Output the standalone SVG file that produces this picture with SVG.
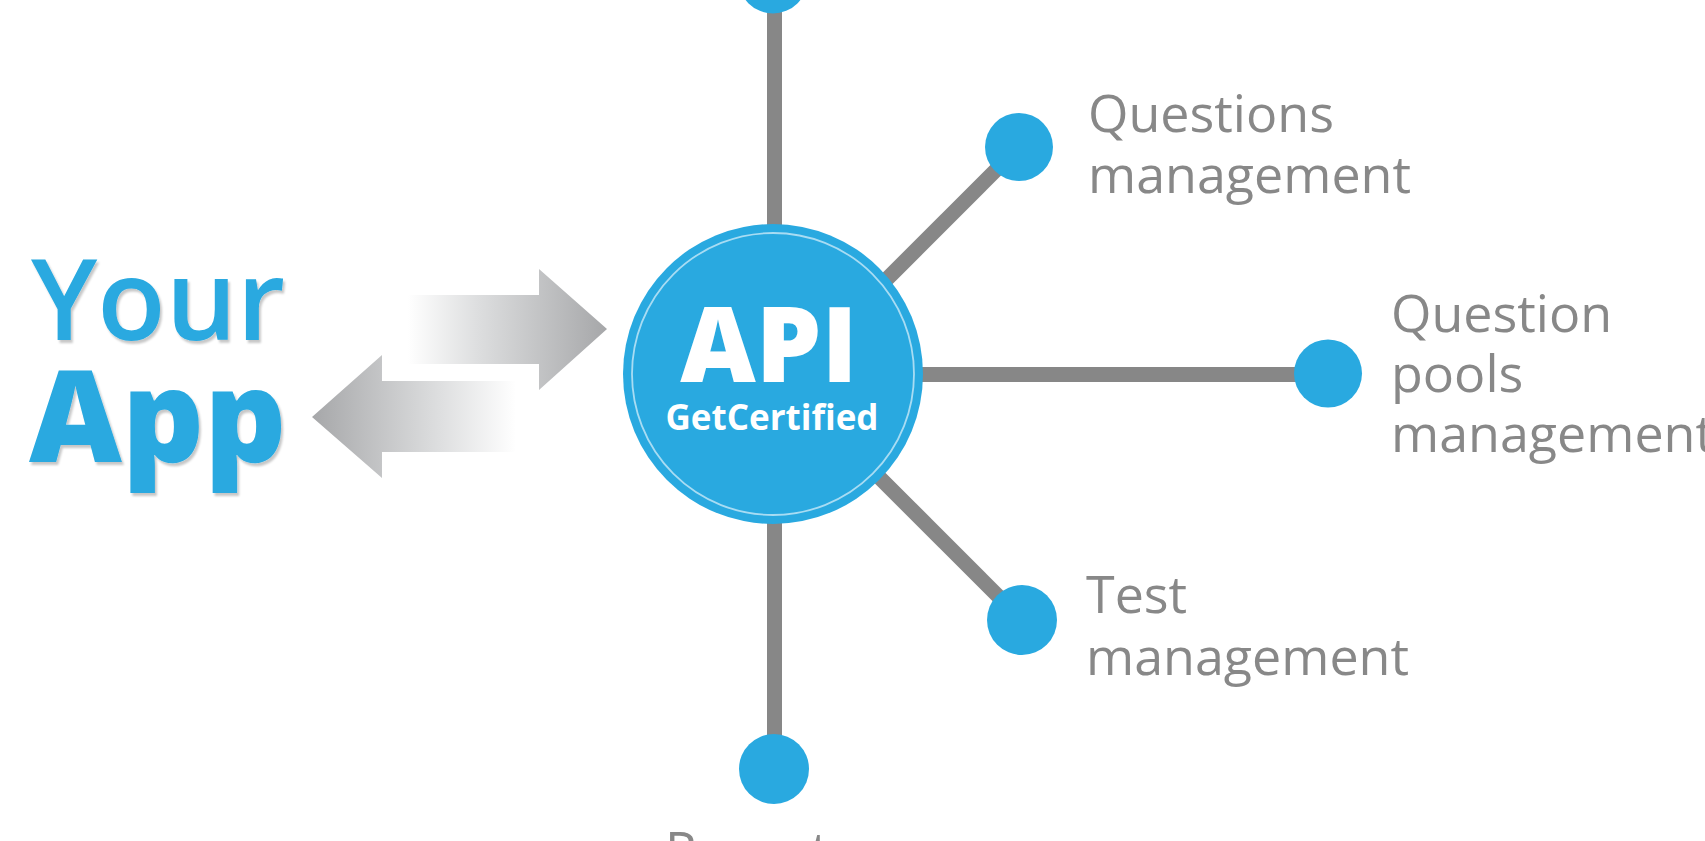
<svg xmlns="http://www.w3.org/2000/svg" width="1705" height="841" viewBox="0 0 1705 841">
  <defs>
    <style>
      .conn { stroke: #878787; stroke-width: 15; fill: none; }
      .dot { fill: #29a9e0; }
      .lbl { font-family: "Open Sans", "Noto Sans", sans-serif; font-size: 52px; fill: #888888; }
      .app { font-family: "Open Sans", "Noto Sans", sans-serif; fill: #29a9e0; }
    </style>
    <linearGradient id="gRight" gradientUnits="userSpaceOnUse" x1="408" y1="0" x2="607" y2="0">
      <stop offset="0" stop-color="#ffffff"/>
      <stop offset="0.35" stop-color="#dddedf"/>
      <stop offset="1" stop-color="#a6a7a9"/>
    </linearGradient>
    <linearGradient id="gLeft" gradientUnits="userSpaceOnUse" x1="312" y1="0" x2="516" y2="0">
      <stop offset="0" stop-color="#a6a7a9"/>
      <stop offset="0.62" stop-color="#dddedf"/>
      <stop offset="1" stop-color="#ffffff"/>
    </linearGradient>
    <filter id="shadow" x="-10%" y="-10%" width="130%" height="130%">
      <feDropShadow dx="2" dy="3" stdDeviation="1.2" flood-color="#000000" flood-opacity="0.22"/>
    </filter>
  </defs>

  <rect width="1705" height="841" fill="#ffffff"/>

  <g id="connectors">
    <line class="conn" x1="774.5" y1="-21" x2="774.5" y2="769"/>
    <line class="conn" x1="773" y1="374.5" x2="1328" y2="374.5"/>
    <line class="conn" x1="1019" y1="147" x2="780" y2="386"/>
    <line class="conn" x1="1022" y1="620" x2="770" y2="368"/>
  </g>

  <g id="your-app">
    <text class="app" x="31" y="340" font-size="112" font-weight="600" filter="url(#shadow)">Your</text>
    <text class="app" x="29" y="462" font-size="128" font-weight="800" filter="url(#shadow)">App</text>
  </g>

  <g id="arrows">
    <polygon points="408,295 539,295 539,269 607,329 539,390 539,364 408,364" fill="url(#gRight)"/>
    <polygon points="312,417 382,355 382,381 516,381 516,452 382,452 382,478" fill="url(#gLeft)"/>
  </g>

  <g id="api">
    <circle cx="773" cy="374" r="150" fill="#29a9e0"/>
    <circle cx="773" cy="374" r="141" fill="none" stroke="#a8dcf3" stroke-width="1.8"/>
    <text x="769" y="382" text-anchor="middle" font-family="'Open Sans', 'Noto Sans', sans-serif" font-size="104" font-weight="800" fill="#ffffff">API</text>
    <text x="772" y="430" text-anchor="middle" font-family="'Open Sans', 'Noto Sans', sans-serif" font-size="35" font-weight="700" fill="#ffffff">GetCertified</text>
  </g>

  <g id="node-top">
    <circle class="dot" cx="773" cy="-21" r="34.5"/>
  </g>

  <g id="node-questions">
    <circle class="dot" cx="1019" cy="147" r="34"/>
    <text class="lbl" x="1088" y="132">Questions</text>
    <text class="lbl" x="1088" y="193">management</text>
  </g>

  <g id="node-pools">
    <circle class="dot" cx="1328" cy="373.5" r="34"/>
    <text class="lbl" x="1391" y="332">Question</text>
    <text class="lbl" x="1391" y="392">pools</text>
    <text class="lbl" x="1391" y="452">management</text>
  </g>

  <g id="node-test">
    <circle class="dot" cx="1022" cy="620" r="35"/>
    <text class="lbl" x="1086" y="613">Test</text>
    <text class="lbl" x="1086" y="675">management</text>
  </g>

  <g id="node-reports">
    <circle class="dot" cx="774" cy="769" r="35"/>
    <text class="lbl" x="665" y="869">Reports</text>
  </g>
</svg>
